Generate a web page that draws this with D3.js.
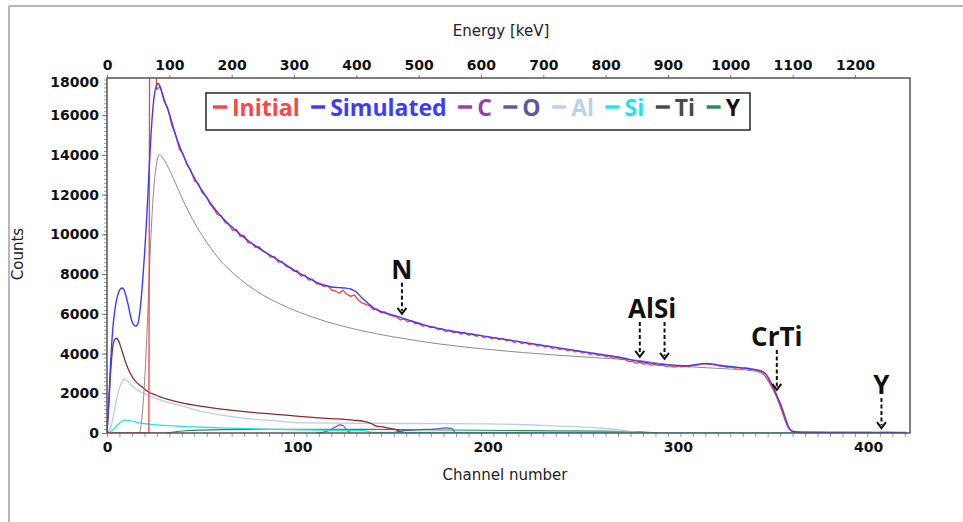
<!DOCTYPE html>
<html><head><meta charset="utf-8">
<script src="https://cdn.jsdelivr.net/npm/d3@7"></script>
<style>body{margin:0;background:#fff}svg{display:block}</style>
</head><body>
<svg id="c" width="963" height="522"></svg>
<script>
// ---------------- DATA ----------------
const channelTicks = [0, 100, 200, 300, 400];
const energyTicks = [0, 100, 200, 300, 400, 500, 600, 700, 800, 900, 1000, 1100, 1200];
const countTicks = [0, 2000, 4000, 6000, 8000, 10000, 12000, 14000, 16000, 18000];
const kevPerChannel = 3.053;
const channelMax = 422;

const simulatedChannels = [0,1,2,3,4,5,6,7,8,9,10,11,12,13,14,15,16,17,18,19,20,21,22,23,24,25,26,27,28,30,33,36,40,45,50,55,60,65,70,75,80,85,90,95,100,105,110,114,118,122,125,128,131,134,137,140,145,150,155,160,165,170,175,180,185,190,195,200,210,220,230,240,250,260,270,280,285,290,295,300,304,308,312,315,318,322,326,330,335,340,343,346,348,350,352,354,356,358,360,363,370,380,390,400,410,420];
const simulatedCounts = [0,1800,3700,5200,6100,6700,7050,7250,7300,7200,6900,6500,6050,5650,5450,5380,5450,5900,6800,8000,9400,11100,13000,14800,16200,17100,17500,17600,17400,16800,16000,15000,14000,13000,12200,11500,10900,10430,10000,9630,9300,9000,8700,8400,8100,7850,7600,7450,7350,7320,7300,7250,7100,6800,6550,6300,6080,5950,5800,5640,5490,5350,5250,5150,5075,5000,4925,4850,4700,4550,4400,4250,4100,3950,3800,3600,3530,3470,3430,3400,3385,3420,3480,3500,3480,3410,3360,3320,3270,3200,3150,3000,2700,2350,1900,1450,900,350,100,50,35,30,30,28,25,22];

// Initial (measured) spectrum
const initialLeadChannels = [0, 22, 22.6, 25.8];
const initialLeadCounts = [0, 0, 30000, 30000];
const initialStartChannel = 26, initialStep = 2;
const initialCounts = [17300,17450,16700,16350,15500,15050,14300,14050,13500,13250,
 12700,12550,12100,11950,11550,11300,11000,10950,10600,10500,
 10200,10250,9900,9950,9600,9550,9350,9380,9150,9050,
 8850,8880,8600,8640,8400,8330,8150,8170,7900,7950,
 7700,7750,7520,7480,7380,7420,7200,7150,7050,7180,
 7000,6880,6950,6700,6550,6480,6400,6200,6250,6050,
 6100,5950,5900,5850,5700,5750,5600,5650,5500,5520,
 5380,5420,5300,5340,5200,5250,5100,5180,5050,5100,
 4980,5050,4920,4990,4870,4930,4800,4870,4750,4800,
 4700,4760,4640,4690,4560,4620,4500,4560,4450,4500,
 4380,4430,4330,4380,4260,4310,4200,4250,4150,4190,
 4080,4130,4020,4070,3960,4010,3900,3940,3850,3880,
 3760,3800,3700,3720,3600,3620,3520,3560,3470,3500,
 3420,3450,3390,3420,3350,3380,3320,3370,3330,3360,
 3340,3400,3420,3460,3490,3470,3440,3420,3370,3350,
 3310,3330,3270,3290,3230,3260,3180,3200,3120,3050,
 2850,2550,2200,1800,1300,750,250,80,40];
const initialTailChannels = [365,370,375,380,385,390,395,400,405,410,415,420];
const initialTailCounts = [35,30,35,30,28,32,25,28,22,25,20,20];

// Element components
const tiChannels = [14,17,19,21,22.6,24,25.5,27.5,30,32,35,40,45,50,58,70,80,90,101,115,133,150,175,200,238,260,280,300,320,340,346,350,354,358,362,420];
const tiCounts = [0,0,1500,5000,8870,11500,13200,14000,13750,13400,12800,11700,10750,9950,8870,7740,7060,6540,6080,5620,5170,4850,4480,4210,3910,3770,3650,3380,3260,3120,2950,2250,1300,300,30,20];

const brownChannels = [0,1,2,3,4,5,6,8,10,12,15,18,22,26,30,35,40,49,60,75,90,101,115,130,135,138,140,142,145,148,151,155,158];
const brownCounts = [0,1500,3200,4300,4700,4770,4650,4100,3500,3050,2600,2350,2050,1900,1750,1620,1500,1350,1200,1050,930,840,740,640,590,510,420,330,310,240,200,50,0];

const alChannels = [0,2,4,6,8,9,11,14,18,22.6,30,40,49,60,75,90,101,130,150,180,200,230,250,260,270,276,282];
const alCounts = [0,300,1200,2100,2600,2720,2600,2300,2050,1860,1600,1350,1100,900,720,600,520,490,480,470,460,380,300,240,150,70,0];

const siChannels = [0,3,6,9,12,16,22,30,45,60,80,100,120,135,138,142,250,270,275,279,282,365];
const siCounts = [0,150,450,650,620,520,450,380,310,260,200,160,130,120,60,25,25,50,60,20,0,0];

const yChannels = [0,30,40,60,100,140,180,220,260,280,290];
const yCounts = [0,0,100,170,190,180,150,120,90,60,0];

const cChannels = [110,116,120,122.5,124,126,128];
const cCounts = [0,100,300,410,380,150,0];

const oChannels = [150,156,165,172,178,181,183];
const oCounts = [0,120,170,200,260,230,0];

// Legend
const legendLabels = ["Initial","Simulated","C","O","Al","Si","Ti","Y"];
const legendDashColors = ["#ff4646","#3c3cff","#9b3fa8","#5b5b9b","#bcd0f0","#20e4ee","#4a4a4a","#2e8b57"];
const legendTextColors = ["#ff4646","#3c3cff","#9b3fa8","#5b5b9b","#bcd0f0","#20e4ee","#4a4a4a","#111111"];

// Annotations
const annotLabels = ["N","AlSi","CrTi","Y"];
const annotChannels = [[155],[280,293],[352],[407]];
const annotTipCounts = [[6000],[3830,3730],[2170],[250]];

// ---------------- LAYOUT ----------------
const P = {l:107, r:910, t:78, b:433};
const svg = d3.select("#c");
const x = d3.scaleLinear().domain([0, channelMax]).range([P.l, P.r]);
const xE = d3.scaleLinear().domain([0, channelMax * kevPerChannel]).range([P.l, P.r]);
const y = d3.scaleLinear().domain([0, 18000]).range([P.b, 75.5]);
const fmt = d3.format("d");

const tickFont = "'DejaVu Sans', sans-serif";
const titleFont = "'DejaVu Sans', sans-serif";
const legFont = "'Open Sans', sans-serif";

// outer border (top & left)
svg.append("line").attr("x1",9).attr("y1",6).attr("x2",963).attr("y2",6).attr("stroke","#a0a0a0").attr("stroke-width",1.5);
svg.append("line").attr("x1",9).attr("y1",6).attr("x2",9).attr("y2",522).attr("stroke","#a0a0a0").attr("stroke-width",1.5);

svg.append("defs").append("clipPath").attr("id","clip")
  .append("rect").attr("x",P.l).attr("y",P.t).attr("width",P.r-P.l).attr("height",P.b-P.t);

// minor ticks
const minorBottom = svg.append("g").attr("transform",`translate(0,${P.b})`)
  .call(d3.axisBottom(xE).tickValues(d3.range(0, channelMax*kevPerChannel, 20)).tickSize(4).tickFormat(""));
minorBottom.select(".domain").remove();
minorBottom.selectAll("line").attr("stroke","#9a9a9a");

const minorLeft = svg.append("g").attr("transform",`translate(${P.l},0)`)
  .call(d3.axisLeft(y).tickValues(d3.range(0, 17900, 200)).tickSize(3).tickFormat(""));
minorLeft.select(".domain").remove();
minorLeft.selectAll("line").attr("stroke","#9a9a9a");

// major axes
const gB = svg.append("g").attr("transform",`translate(0,${P.b})`)
  .call(d3.axisBottom(x).tickValues(channelTicks).tickSize(0).tickPadding(9).tickFormat(fmt));
gB.select(".domain").remove();
gB.selectAll("text").attr("font-family",tickFont).attr("font-weight","bold").attr("font-size",14).attr("fill","#111");

const gT = svg.append("g").attr("transform",`translate(0,${P.t})`)
  .call(d3.axisTop(xE).tickValues(energyTicks).tickSize(3).tickPadding(5).tickFormat(fmt));
gT.select(".domain").remove();
gT.selectAll("line").attr("stroke","#777");
gT.selectAll("text").attr("font-family",tickFont).attr("font-weight","bold").attr("font-size",14).attr("fill","#111");

const gL = svg.append("g").attr("transform",`translate(${P.l},0)`)
  .call(d3.axisLeft(y).tickValues(countTicks).tickSize(5).tickPadding(3).tickFormat(fmt));
gL.select(".domain").remove();
gL.selectAll("line").attr("stroke","#777");
gL.selectAll(".tick").each(function(d){
  if (y(d) < P.t + 5) {
    d3.select(this).attr("transform",`translate(0,${P.t+5})`);
    d3.select(this).select("line").remove();
  }
});
gL.selectAll("text").attr("font-family",tickFont).attr("font-weight","bold").attr("font-size",14).attr("fill","#111");

// titles
svg.append("text").attr("transform","translate(23,254) rotate(-90)").attr("text-anchor","middle")
  .attr("font-family",titleFont).attr("font-size",15).attr("fill","#222").text("Counts");
svg.append("text").attr("x",505).attr("y",480).attr("text-anchor","middle")
  .attr("font-family",titleFont).attr("font-size",15).attr("fill","#222").text("Channel number");
svg.append("text").attr("x",501).attr("y",36).attr("text-anchor","middle")
  .attr("font-family",titleFont).attr("font-size",15).attr("fill","#222").text("Energy [keV]");

// ---------------- SERIES ----------------
const zip = (a,b) => a.map((v,i)=>[v,b[i]]);
const smooth = d3.line().x(d=>x(d[0])).y(d=>y(d[1])).curve(d3.curveMonotoneX);
const straight = d3.line().x(d=>x(d[0])).y(d=>y(d[1]));
const plot = svg.append("g").attr("clip-path","url(#clip)");

function draw(data, color, w, gen) {
  plot.append("path").datum(data).attr("d", gen || smooth)
    .attr("fill","none").attr("stroke",color).attr("stroke-width",w).attr("stroke-linejoin","round");
}
draw(zip(yChannels,yCounts), "#2e8b57", 1.2);
draw(zip(oChannels,oCounts), "#5b5b9b", 1.2);
draw(zip(cChannels,cCounts), "#9b3fa8", 1.2);
draw(zip(alChannels,alCounts), "#b9cdf0", 1.3);
draw(zip(brownChannels,brownCounts), "#8b2a2a", 1.3);
draw(zip(siChannels,siCounts), "#20e4ee", 1.3);
draw(zip(tiChannels,tiCounts), "#8c8c8c", 1);

const initialData = zip(initialLeadChannels, initialLeadCounts)
  .concat(initialCounts.map((v,i)=>[initialStartChannel + i*initialStep, v]))
  .concat(zip(initialTailChannels, initialTailCounts));
draw(initialData, "#ff3c3c", 1.3, straight);
draw(zip(simulatedChannels,simulatedCounts), "#3c3cff", 1.4);

// frame
svg.append("rect").attr("x",P.l).attr("y",P.t).attr("width",P.r-P.l).attr("height",P.b-P.t)
  .attr("fill","none").attr("stroke","#555").attr("stroke-width",1.5);

// ---------------- LEGEND ----------------
const leg = svg.append("g");
leg.append("rect").attr("x",206).attr("y",93).attr("width",544).attr("height",37)
  .attr("fill","#fff").attr("stroke","#333").attr("stroke-width",1.6);
const dashW = 14, dashGap = 5;
const texts = legendLabels.map((t,i)=> leg.append("text").attr("y",116)
  .attr("font-family",legFont).attr("font-weight",700).attr("font-size",23)
  .attr("fill",legendTextColors[i]).text(t));
const widths = texts.map(t=>t.node().getComputedTextLength());
const innerL = 213, innerR = 740;
const natural = d3.sum(widths) + legendLabels.length*(dashW+dashGap);
const gap = (innerR - innerL - natural) / (legendLabels.length - 1);
let cx = innerL;
legendLabels.forEach((t,i)=>{
  leg.append("line").attr("x1",cx).attr("x2",cx+dashW).attr("y1",107).attr("y2",107)
    .attr("stroke",legendDashColors[i]).attr("stroke-width",3.5);
  cx += dashW + dashGap;
  texts[i].attr("x",cx);
  cx += widths[i] + gap;
});

// ---------------- ANNOTATIONS ----------------
const arrowLen = [31, 35, 40, 30];
annotLabels.forEach((lab,i)=>{
  const xs = annotChannels[i].map(c=>x(c));
  const tips = annotTipCounts[i].map(c=>y(c));
  const top = d3.min(tips) - arrowLen[i];
  xs.forEach((xx,j)=>{
    const tip = tips[j];
    svg.append("line").attr("x1",xx).attr("x2",xx).attr("y1",top).attr("y2",tip-3)
      .attr("stroke","#111").attr("stroke-width",2).attr("stroke-dasharray","4,2.5");
    svg.append("polyline").attr("points",`${xx-4.5},${tip-6} ${xx},${tip} ${xx+4.5},${tip-6}`)
      .attr("fill","none").attr("stroke","#111").attr("stroke-width",2);
  });
  svg.append("text").attr("x",d3.mean(xs)).attr("y",top-4).attr("text-anchor","middle")
    .attr("font-family",legFont).attr("font-weight",700).attr("font-size",26).attr("fill","#111").text(lab);
});
</script>
</body></html>
